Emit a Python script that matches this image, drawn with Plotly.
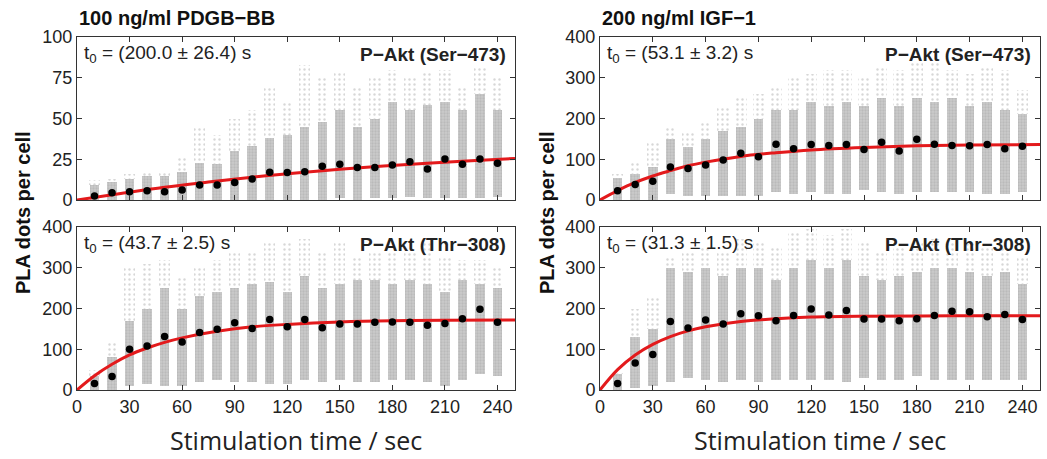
import plotly.graph_objects as go

# Stimulation times (s)
times = [10, 20, 30, 40, 50, 60, 70, 80, 90, 100, 110, 120,
         130, 140, 150, 160, 170, 180, 190, 200, 210, 220, 230, 240]

# --- 100 ng/ml PDGF-BB, P-Akt (Ser-473) ---
pdgf_ser_mean = [2.5, 4.5, 5, 5.7, 5, 6.1, 9.2, 9.2, 10.7, 12.9, 17, 16.8,
                 17.4, 20.7, 22, 20, 19.9, 21.5, 23.4, 19, 25.2, 22, 25.2, 22.5]
pdgf_ser_base = [0, 0, 0, 0, 0, 0, 0, 0, 0, 0, 0, 0,
                 0, 0, 1, 0, 1, 1, 2, 1, 1, 1, 1, 2]
pdgf_ser_core = [9, 11, 13, 15, 15, 17, 23, 22, 30, 33, 38, 40,
                 45, 48, 55, 45, 50, 60, 55, 58, 60, 55, 65, 55]
pdgf_ser_top = [12, 13, 16, 18, 18, 27, 45, 40, 50, 55, 70, 60,
                83, 75, 78, 70, 75, 80, 75, 78, 80, 70, 82, 75]
pdgf_ser_fit_t = [0, 25, 50, 75, 100, 125, 150, 175, 200, 225, 250]
pdgf_ser_fit_y = [0, 4, 7.8, 11, 14, 16.6, 18.8, 20.8, 22.6, 24.1, 25.5]

# --- 100 ng/ml PDGF-BB, P-Akt (Thr-308) ---
pdgf_thr_mean = [16, 33, 100, 108, 131, 118, 141, 149, 165, 151, 173, 155,
                 173, 153, 162, 162, 166, 167, 166, 159, 163, 175, 198, 166]
pdgf_thr_base = [0, 0, 10, 15, 10, 10, 20, 25, 20, 20, 15, 15,
                 25, 20, 25, 20, 20, 25, 25, 20, 10, 25, 40, 35]
pdgf_thr_core = [35, 80, 170, 200, 250, 200, 230, 240, 250, 260, 265, 240,
                 280, 250, 260, 270, 270, 260, 270, 260, 240, 270, 260, 250]
pdgf_thr_top = [50, 120, 300, 310, 320, 280, 300, 320, 340, 340, 360, 360,
                370, 340, 360, 330, 340, 340, 340, 360, 330, 320, 320, 300]
pdgf_thr_fit_t = [0, 10, 20, 30, 40, 50, 60, 80, 100, 120, 150, 180, 210, 250]
pdgf_thr_fit_y = [0, 35, 63, 86, 103, 117, 128, 144, 155, 161, 167, 170, 171, 172]

# --- 200 ng/ml IGF-1, P-Akt (Ser-473) ---
igf_ser_mean = [23, 38, 46, 81, 77, 86, 98, 115, 106, 137, 126, 136,
                134, 136, 124, 142, 120, 149, 137, 134, 133, 136, 126, 132]
igf_ser_base = [0, 0, 0, 15, 10, 10, 10, 10, 10, 20, 15, 20,
                15, 15, 25, 20, 15, 20, 20, 20, 20, 15, 15, 20]
igf_ser_core = [55, 65, 80, 150, 130, 150, 170, 180, 200, 220, 220, 240,
                230, 240, 230, 250, 230, 250, 240, 250, 230, 240, 220, 210]
igf_ser_top = [65, 90, 140, 180, 170, 190, 230, 250, 260, 280, 300, 310,
               320, 320, 300, 330, 320, 340, 340, 320, 310, 330, 320, 270]
igf_ser_fit_t = [0, 10, 20, 30, 40, 50, 60, 80, 100, 120, 150, 180, 210, 250]
igf_ser_fit_y = [0, 23, 43, 59, 72, 84, 93, 107, 116, 123, 129, 133, 135, 136]

# --- 200 ng/ml IGF-1, P-Akt (Thr-308) ---
igf_thr_mean = [16, 66, 87, 168, 152, 172, 162, 187, 182, 170, 183, 199,
                184, 195, 174, 174, 170, 175, 183, 193, 192, 180, 185, 173]
igf_thr_base = [0, 5, 10, 20, 30, 25, 20, 25, 20, 25, 25, 25,
                25, 20, 30, 25, 25, 35, 25, 25, 25, 25, 25, 25]
igf_thr_core = [40, 130, 150, 300, 290, 300, 280, 300, 300, 270, 300, 320,
                300, 320, 280, 270, 280, 290, 300, 300, 290, 280, 290, 260]
igf_thr_top = [45, 200, 230, 330, 340, 350, 340, 370, 360, 350, 390, 395,
               380, 395, 360, 340, 350, 360, 370, 360, 360, 350, 350, 330]
igf_thr_fit_t = [0, 10, 20, 30, 40, 50, 60, 80, 100, 120, 150, 200, 250]
igf_thr_fit_y = [0, 50, 86, 112, 131, 145, 155, 168, 175, 179, 181, 182, 182]

panels = [
    # axis suffix, mean, base, core, top, fit t, fit y, t0 text, site
    ("", pdgf_ser_mean, pdgf_ser_base, pdgf_ser_core, pdgf_ser_top,
     pdgf_ser_fit_t, pdgf_ser_fit_y, "(200.0 ± 26.4) s", "P−Akt (Ser−473)"),
    ("3", pdgf_thr_mean, pdgf_thr_base, pdgf_thr_core, pdgf_thr_top,
     pdgf_thr_fit_t, pdgf_thr_fit_y, "(43.7 ± 2.5) s", "P−Akt (Thr−308)"),
    ("2", igf_ser_mean, igf_ser_base, igf_ser_core, igf_ser_top,
     igf_ser_fit_t, igf_ser_fit_y, "(53.1 ± 3.2) s", "P−Akt (Ser−473)"),
    ("4", igf_thr_mean, igf_thr_base, igf_thr_core, igf_thr_top,
     igf_thr_fit_t, igf_thr_fit_y, "(31.3 ± 1.5) s", "P−Akt (Thr−308)"),
]

W, H = 1047, 459
fig = go.Figure()

for ax, mean, base, core, top, ft, fy, t0, site in panels:
    xa, ya = "x" + ax, "y" + ax
    # dense part of the single-cell cloud
    fig.add_trace(go.Bar(
        x=times, y=[c - b for c, b in zip(core, base)], base=base, width=5.4,
        xaxis=xa, yaxis=ya, showlegend=False,
        marker=dict(color="#c4c4c4", line_width=0,
                    pattern=dict(shape=".", fgcolor="#a9a9a9", bgcolor="#cbcbcb",
                                 size=3, solidity=0.45))))
    # sparse upper tail
    fig.add_trace(go.Bar(
        x=times, y=[t - c for t, c in zip(top, core)], base=core, width=6.5,
        xaxis=xa, yaxis=ya, showlegend=False,
        marker=dict(color="#dddddd", line_width=0,
                    pattern=dict(shape=".", fgcolor="#b0b0b0", bgcolor="rgba(0,0,0,0)",
                                 size=5, solidity=0.18))))
    fig.add_trace(go.Scatter(
        x=ft, y=fy, mode="lines", line=dict(color="#e31a1c", width=3, shape="spline"),
        xaxis=xa, yaxis=ya, showlegend=False))
    fig.add_trace(go.Scatter(
        x=times, y=mean, mode="markers", marker=dict(color="black", size=7.5),
        xaxis=xa, yaxis=ya, showlegend=False))

# pixel boxes of the four plot areas
colx = [(77, 515), (600, 1040)]
rowy = [(37, 200), (227, 390)]

def dom_x(c):
    return [colx[c][0] / W, colx[c][1] / W]

def dom_y(r):
    return [1 - rowy[r][1] / H, 1 - rowy[r][0] / H]

tickfont = dict(family="Liberation Sans, Arial", size=18, color="#222")
common_x = dict(range=[0, 250], tickvals=[0, 30, 60, 90, 120, 150, 180, 210, 240],
                ticks="inside", ticklen=5, tickcolor="#333", showline=True,
                linecolor="#333", linewidth=1, mirror="ticks", showgrid=False,
                zeroline=False, tickfont=tickfont, automargin=False)
common_y = dict(ticks="inside", ticklen=5, tickcolor="#333", showline=True,
                linecolor="#333", linewidth=1, mirror="ticks", showgrid=False,
                zeroline=False, tickfont=tickfont, automargin=False)

layout = dict(width=W, height=H, margin=dict(l=0, r=0, t=0, b=0),
              plot_bgcolor="white", paper_bgcolor="white", barmode="overlay",
              bargap=0)
# axis order: 1 = top-left, 2 = top-right, 3 = bottom-left, 4 = bottom-right
axes = [("", 0, 0, [0, 100], [0, 25, 50, 75, 100]),
        ("2", 1, 0, [0, 400], [0, 100, 200, 300, 400]),
        ("3", 0, 1, [0, 400], [0, 100, 200, 300, 400]),
        ("4", 1, 1, [0, 400], [0, 100, 200, 300, 400])]
for suf, c, r, yr, yt in axes:
    layout["xaxis" + suf] = dict(common_x, domain=dom_x(c), anchor="y" + suf,
                                 showticklabels=(r == 1))
    layout["yaxis" + suf] = dict(common_y, domain=dom_y(r), anchor="x" + suf,
                                 range=yr, tickvals=yt)
fig.update_layout(**layout)

ann = []
bold = dict(family="Liberation Sans, Arial", size=20, color="#111")
ann.append(dict(text="<b>100 ng/ml PDGB−BB</b>", x=77 / W, y=1 - 18 / H,
                xanchor="left", yanchor="middle", font=bold))
ann.append(dict(text="<b>200 ng/ml IGF−1</b>", x=600 / W, y=1 - 18 / H,
                xanchor="left", yanchor="middle", font=bold))
for cx in [23, 547]:
    ann.append(dict(text="<b>PLA dots per cell</b>", x=cx / W, y=1 - 213 / H,
                    textangle=-90, xanchor="center", yanchor="middle", font=bold))
for c in range(2):
    mid = (colx[c][0] + colx[c][1]) / 2
    ann.append(dict(text="Stimulation time / sec", x=mid / W, y=1 - 440 / H,
                    xanchor="center", yanchor="middle",
                    font=dict(family="Open Sans", size=25, color="#222")))

inner = dict(family="Liberation Sans, Arial", size=19, color="#222")
pos = {"": (0, 0), "3": (0, 1), "2": (1, 0), "4": (1, 1)}
for ax, mean, base, core, top, ft, fy, t0, site in panels:
    c, r = pos[ax]
    ytxt = 1 - (rowy[r][0] + 17) / H
    ann.append(dict(text="t<sub>0</sub> = " + t0, x=(colx[c][0] + 5) / W, y=ytxt,
                    xanchor="left", yanchor="middle", font=inner))
    ann.append(dict(text="<b>" + site + "</b>", x=(colx[c][1] - 7) / W, y=ytxt,
                    xanchor="right", yanchor="middle", font=inner))

for a in ann:
    a.update(xref="paper", yref="paper", showarrow=False)
fig.update_layout(annotations=ann)

fig.write_html("out.html", config={"displayModeBar": False},
               post_script="document.body.style.margin='0';")
